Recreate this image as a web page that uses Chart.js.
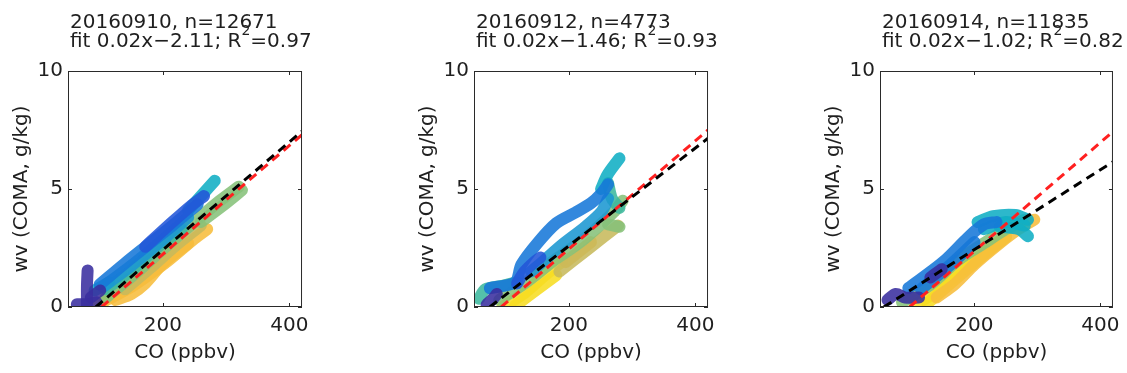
<!DOCTYPE html>
<html>
<head>
<meta charset="utf-8">
<script src="https://cdn.jsdelivr.net/npm/chart.js@4.4.0/dist/chart.umd.min.js"></script>
<style>
  body { margin: 0; background: #fff; width: 1127px; height: 373px; overflow: hidden; position: relative; }
  canvas { position: absolute; top: 0; }
</style>
</head>
<body>
<canvas id="day0" width="316" height="373" style="left:0px"></canvas>
<canvas id="day1" width="316" height="373" style="left:406px"></canvas>
<canvas id="day2" width="315" height="373" style="left:812px"></canvas>
<script>
// panel headers
const flightDays = ["20160910", "20160912", "20160914"];
const sampleCounts = [12671, 4773, 11835];
const fitSlopeText = ["0.02", "0.02", "0.02"];
const fitInterceptText = ["2.11", "1.46", "1.02"];
const fitR2Text = ["0.97", "0.93", "0.82"];

// axes
const xRange = [50, 420];
const yRange = [0, 10];
const xTickValues = [200, 400];
const yTickValues = [0, 5, 10];

// dashed lines as [CO, wv] end points
const fitLines = [[[94, 0], [420, 7.45]], [[75, 0], [420, 7.15]], [[56, 0], [420, 6.15]]];
const refLines = [[[103, 0], [420, 7.3]], [[93, 0], [420, 7.5]], [[97, 0], [420, 7.43]]];

// measurement tracks, t = position in the flight (0 early .. 9 late), pts = [CO, wv]
const tracks0910 = [
    { t: 0, pts: [[80, 0.1], [80, 0.9], [81, 1.55]] },
    { t: 0, pts: [[64, 0.12], [80, 0.12], [95, 0.2]] },
    { t: 0, pts: [[86, 0.4], [101, 0.7]] },
    { t: 1, pts: [[172, 2.55], [215, 3.6], [245, 4.3], [265, 4.7]] },
    { t: 2, pts: [[100, 0.95], [140, 1.85], [175, 2.6], [215, 3.45], [255, 4.35]] },
    { t: 3, pts: [[105, 0.85], [150, 1.75], [200, 2.85], [240, 3.8]] },
    { t: 4, pts: [[92, 0.7], [115, 1.05]] },
    { t: 4, pts: [[240, 4.1], [262, 4.75], [282, 5.35]] },
    { t: 5, pts: [[110, 0.75], [150, 1.55], [190, 2.5], [230, 3.3]] },
    { t: 6, pts: [[110, 0.4], [160, 1.5], [200, 2.45], [250, 3.6], [290, 4.5], [320, 5.1]] },
    { t: 6, pts: [[260, 3.6], [295, 4.3], [325, 4.95]] },
    { t: 7, pts: [[140, 0.75], [180, 1.65], [220, 2.6], [260, 3.45]] },
    { t: 8, pts: [[108, 0.25], [150, 0.85], [180, 1.4], [210, 2.0], [250, 2.9], [270, 3.3]] },
    { t: 8, pts: [[125, 0.3], [150, 0.55], [172, 1.0], [200, 1.85], [240, 2.7]] },
    { t: 9, pts: [[98, 0.08], [108, 0.3], [116, 0.55]] }
];
const tracks0912 = [
    { t: 0, pts: [[70, 0.1], [80, 0.35], [86, 0.55]] },
    { t: 1, pts: [[118, 1.0], [130, 1.5], [145, 1.9], [155, 2.1]] },
    { t: 2, pts: [[75, 0.8], [115, 1.05], [125, 1.8], [150, 2.7], [180, 3.55], [210, 4.0], [235, 4.4], [251, 4.8], [262, 5.2]] },
    { t: 3, pts: [[140, 1.5], [160, 1.95], [190, 2.65], [226, 3.4], [252, 4.05], [262, 4.6]] },
    { t: 4, pts: [[251, 5.0], [261, 5.6], [280, 6.3]] },
    { t: 5, pts: [[58, 0.35], [68, 0.75], [95, 0.9], [118, 1.05]] },
    { t: 5, pts: [[262, 5.25], [268, 4.6], [280, 4.2]] },
    { t: 6, pts: [[90, 0.3], [130, 1.0], [173, 1.9], [225, 2.9], [270, 4.0], [285, 4.5]] },
    { t: 6, pts: [[262, 3.5], [280, 3.4]] },
    { t: 7, pts: [[185, 1.5], [230, 2.45], [278, 3.45]] },
    { t: 8, pts: [[195, 1.9], [235, 2.75]] },
    { t: 9, pts: [[95, 0.0], [130, 0.6], [160, 1.3], [190, 1.95]] },
    { t: 9, pts: [[115, 0.05], [150, 0.75], [180, 1.35]] }
];
const tracks0914 = [
    { t: 0, pts: [[62, 0.3], [75, 0.55], [90, 0.4], [112, 0.4]] },
    { t: 0, pts: [[130, 1.25], [140, 1.45], [148, 1.6]] },
    { t: 2, pts: [[95, 0.8], [150, 1.9], [190, 2.95], [215, 3.5], [235, 3.6]] },
    { t: 2, pts: [[115, 0.75], [160, 1.75], [200, 2.75]] },
    { t: 4, pts: [[205, 3.6], [230, 3.85], [265, 3.9], [285, 3.7]] },
    { t: 4, pts: [[215, 3.3], [250, 3.6], [280, 3.45]] },
    { t: 4, pts: [[240, 3.4], [270, 3.3], [285, 3.0]] },
    { t: 6, pts: [[85, 0.2], [130, 0.95], [175, 2.0], [215, 2.7], [250, 3.3], [280, 3.7]] },
    { t: 8, pts: [[140, 0.4], [170, 1.0], [200, 1.8], [240, 2.7], [270, 3.3], [295, 3.7]] },
    { t: 9, pts: [[105, 0.1], [140, 0.65], [175, 1.45], [215, 2.3], [250, 3.0]] },
    { t: 9, pts: [[125, 0.15], [175, 1.3], [226, 2.45], [250, 2.95]] }
];

// parula-like colour steps
const parula = ["#3a2f9f", "#2356d8", "#1777d8", "#1b97d2", "#10aec4",
                "#3cb89e", "#86c17a", "#c7b95c", "#f7bd3c", "#f7dd22"];

const FONT = { family: '"DejaVu Sans"', size: 20 };
const INK = "#1f1f1f";
Chart.defaults.font.family = FONT.family;

function rgba(hex, a) {
    const n = parseInt(hex.slice(1), 16);
    return `rgba(${(n >> 16) & 255}, ${(n >> 8) & 255}, ${n & 255}, ${a})`;
}
const toXY = pts => pts.map(p => ({ x: p[0], y: p[1] }));

// MATLAB style box with inward ticks on all four sides
const boxPlugin = {
    id: "matBox",
    afterDatasetsDraw(chart) {
        const { ctx, chartArea: a, scales } = chart;
        ctx.save();
        ctx.strokeStyle = "#2a2a2a";
        ctx.lineWidth = 1;
        ctx.strokeRect(a.left + 0.5, a.top + 0.5, a.width - 1, a.height - 1);
        ctx.beginPath();
        xTickValues.forEach(v => {
            const px = Math.round(scales.x.getPixelForValue(v)) + 0.5;
            ctx.moveTo(px, a.bottom); ctx.lineTo(px, a.bottom - 4);
            ctx.moveTo(px, a.top); ctx.lineTo(px, a.top + 4);
        });
        yTickValues.forEach(v => {
            const py = Math.round(scales.y.getPixelForValue(v)) + 0.5;
            ctx.moveTo(a.left, py); ctx.lineTo(a.left + 4, py);
            ctx.moveTo(a.right, py); ctx.lineTo(a.right - 4, py);
        });
        ctx.stroke();
        ctx.restore();
    }
};

// two-line left aligned heading with superscript R^2
const headerPlugin = {
    id: "header",
    afterDraw(chart, args, opts) {
        const ctx = chart.ctx;
        let x = chart.chartArea.left + 2;
        ctx.save();
        ctx.fillStyle = INK;
        ctx.textAlign = "left";
        ctx.textBaseline = "alphabetic";
        ctx.font = '20px "DejaVu Sans"';
        ctx.fillText(opts.line1, x, 28);
        ctx.fillText(opts.line2a, x, 47);
        x += ctx.measureText(opts.line2a).width;
        ctx.font = '14px "DejaVu Sans"';
        ctx.fillText("2", x, 35);
        x += ctx.measureText("2").width;
        ctx.font = '20px "DejaVu Sans"';
        ctx.fillText(opts.line2b, x, 47);
        ctx.restore();
    }
};

function dashed(ends, color, order) {
    return {
        data: toXY(ends), showLine: true, pointRadius: 0, borderColor: color,
        borderWidth: 3, borderDash: [9, 6], order: order, clip: 0
    };
}

function buildPanel(id, i, tracks) {
    const datasets = [dashed(fitLines[i], "#000000", 0), dashed(refLines[i], "#ff2020", 1)];
    tracks.forEach(tr => {
        datasets.push({
            data: toXY(tr.pts), showLine: true, pointRadius: 0,
            borderColor: rgba(parula[tr.t], 0.88), borderWidth: 12,
            borderCapStyle: "round", borderJoinStyle: "round",
            tension: 0.3, order: 10 + tr.t, clip: 0
        });
    });

    return new Chart(document.getElementById(id), {
        type: "scatter",
        data: { datasets: datasets },
        options: {
            responsive: false,
            animation: false,
            events: [],
            devicePixelRatio: 1,
            layout: { padding: { top: 71, right: 10, bottom: 0, left: 0 } },
            scales: {
                x: {
                    type: "linear", min: xRange[0], max: xRange[1],
                    afterBuildTicks: s => { s.ticks = xTickValues.map(v => ({ value: v })); },
                    afterFit: s => { s.height = 66; },
                    grid: { display: false, drawTicks: false },
                    border: { display: false },
                    ticks: { padding: 7, font: FONT, color: INK, maxRotation: 0 },
                    title: { display: true, text: "CO (ppbv)", font: FONT, color: INK, padding: { top: 0, bottom: 8 } }
                },
                y: {
                    min: yRange[0], max: yRange[1],
                    afterBuildTicks: s => { s.ticks = yTickValues.map(v => ({ value: v })); },
                    afterFit: s => { s.width = 68; },
                    grid: { display: false, drawTicks: false },
                    border: { display: false },
                    ticks: { padding: 5, font: FONT, color: INK },
                    title: { display: true, text: "wv (COMA, g/kg)", font: FONT, color: INK, padding: { top: 10, bottom: 0 } }
                }
            },
            plugins: {
                legend: { display: false },
                tooltip: { enabled: false },
                header: {
                    line1: `${flightDays[i]}, n=${sampleCounts[i]}`,
                    line2a: `fit ${fitSlopeText[i]}x\u2212${fitInterceptText[i]}; R`,
                    line2b: `=${fitR2Text[i]}`
                }
            }
        },
        plugins: [boxPlugin, headerPlugin]
    });
}

buildPanel("day0", 0, tracks0910);
buildPanel("day1", 1, tracks0912);
buildPanel("day2", 2, tracks0914);
</script>
</body>
</html>
